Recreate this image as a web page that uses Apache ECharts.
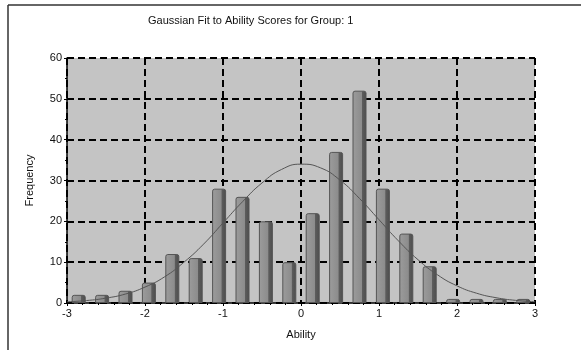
<!DOCTYPE html>
<html>
<head>
<meta charset="utf-8">
<script src="https://cdn.jsdelivr.net/npm/echarts@6/dist/echarts.min.js"></script>
<style>
  html, body { margin: 0; padding: 0; background: #fff; }
  #main { width: 581px; height: 353px; }
</style>
</head>
<body>
<div id="main"></div>
<script>
// histogram bins (centres) and counts
var binCenters = [-2.85, -2.55, -2.25, -1.95, -1.65, -1.35, -1.05, -0.75, -0.45, -0.15,
                  0.15, 0.45, 0.75, 1.05, 1.35, 1.65, 1.95, 2.25, 2.55, 2.85];
var binCounts = [2, 2, 3, 5, 12, 11, 28, 26, 20, 10,
                 22, 37, 52, 28, 17, 9, 1, 1, 1, 1];

// fitted gaussian
var fitX = [-3, -2.75, -2.5, -2.25, -2, -1.75, -1.5, -1.25, -1, -0.75, -0.5, -0.25, 0,
            0.25, 0.5, 0.75, 1, 1.25, 1.5, 1.75, 2, 2.25, 2.5, 2.75, 3];
var fitY = [0.3, 0.6, 1.2, 2.2, 3.9, 6.4, 10.0, 14.4, 19.6, 24.8, 29.4, 32.7, 34,
            33.1, 30.1, 25.6, 20.4, 15.2, 10.6, 6.9, 4.2, 2.4, 1.3, 0.65, 0.3];

var xTicks = [-3, -2, -1, 0, 1, 2, 3];
var yTicks = [0, 10, 20, 30, 40, 50, 60];

var chart = echarts.init(document.getElementById('main'));

var barData = binCenters.map(function (x, i) { return [x, binCounts[i]]; });
var lineData = fitX.map(function (x, i) { return [x, fitY[i]]; });

var font = 'Liberation Sans, Arial, sans-serif';

var option = {
    animation: false,
    backgroundColor: '#ffffff',
    title: {
        text: 'Gaussian Fit to Ability Scores for Group: 1',
        left: 143,
        top: 10,
        textStyle: { fontFamily: font, fontSize: 11, fontWeight: 'normal', color: '#111' }
    },
    graphic: [
        { type: 'line', shape: { x1: 8, y1: 5, x2: 581, y2: 5 }, style: { stroke: '#333', lineWidth: 1.5 } },
        { type: 'line', shape: { x1: 8, y1: 5, x2: 8, y2: 350 }, style: { stroke: '#333', lineWidth: 1.5 } }
    ],
    grid: {
        left: 67, top: 58, width: 468, height: 245,
        show: true, backgroundColor: '#c4c4c4', borderWidth: 0
    },
    xAxis: {
        type: 'value',
        min: xTicks[0], max: xTicks[xTicks.length - 1], interval: 1,
        name: 'Ability',
        nameLocation: 'middle',
        nameGap: 26,
        nameTextStyle: { fontFamily: font, fontSize: 11, color: '#111' },
        axisLine: { show: true, onZero: false, lineStyle: { color: '#000', width: 1.5 } },
        axisTick: { show: true, length: 3, lineStyle: { color: '#000' } },
        minorTick: { show: true, splitNumber: 5, length: 2, lineStyle: { color: '#000' } },
        axisLabel: { fontFamily: font, fontSize: 11, color: '#111', margin: 5 },
        splitLine: { show: true, lineStyle: { color: '#000', type: [7, 4], width: 2 } }
    },
    yAxis: {
        type: 'value',
        min: yTicks[0], max: yTicks[yTicks.length - 1], interval: 10,
        name: 'Frequency',
        nameLocation: 'middle',
        nameGap: 32,
        nameTextStyle: { fontFamily: font, fontSize: 11, color: '#111' },
        axisLine: { show: true, onZero: false, lineStyle: { color: '#000', width: 1.5 } },
        axisTick: { show: true, length: 3, lineStyle: { color: '#000' } },
        minorTick: { show: true, splitNumber: 2, length: 2, lineStyle: { color: '#000' } },
        axisLabel: { fontFamily: font, fontSize: 11, color: '#111', margin: 5 },
        splitLine: { show: true, lineStyle: { color: '#000', type: [7, 4], width: 2 } }
    },
    series: [
        {
            type: 'bar',
            data: barData,
            barWidth: 14,
            itemStyle: {
                color: new echarts.graphic.LinearGradient(0, 0, 1, 0, [
                    { offset: 0, color: '#9c9c9c' },
                    { offset: 0.65, color: '#8c8c8c' },
                    { offset: 0.7, color: '#5c5c5c' },
                    { offset: 1, color: '#4c4c4c' }
                ]),
                borderColor: '#555',
                borderWidth: 1,
                borderRadius: [2, 2, 0, 0]
            },
            z: 2
        },
        {
            type: 'line',
            data: lineData,
            smooth: true,
            showSymbol: false,
            lineStyle: { color: '#555', width: 1 },
            z: 3
        }
    ]
};

chart.setOption(option);
</script>
</body>
</html>
